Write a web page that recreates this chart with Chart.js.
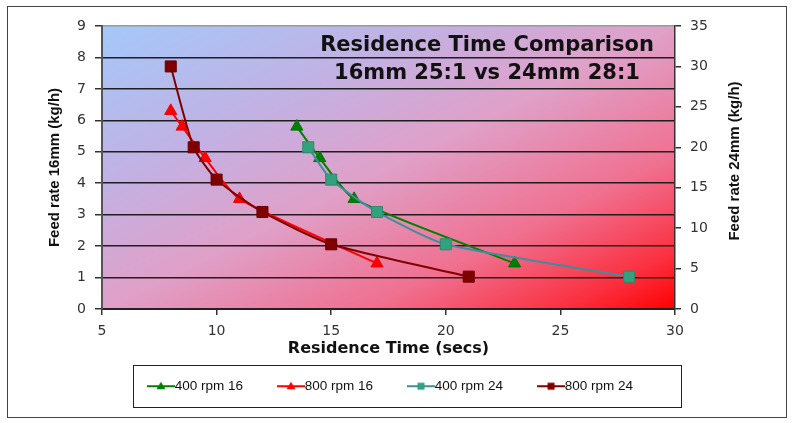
<!DOCTYPE html>
<html><head><meta charset="utf-8">
<script src="https://cdn.jsdelivr.net/npm/chart.js@4.4.1/dist/chart.umd.min.js"></script>
<style>
html,body{margin:0;padding:0;background:#fff;}
#wrap{position:relative;width:792px;height:423px;}
</style></head><body>
<div id="wrap"><canvas id="c" width="792" height="423"></canvas></div>
<script>
// ---- data ----
const seriesNames = ['400 rpm 16', '800 rpm 16', '400 rpm 24', '800 rpm 24'];
const time400_16 = [13.5, 14.5, 16, 23];
const feed400_16 = [5.8, 4.8, 3.5, 1.45];
const time800_16 = [8, 8.5, 9.5, 11, 17];
const feed800_16 = [6.3, 5.8, 4.8, 3.5, 1.45];
const time400_24 = [14, 15, 17, 20, 28];
const feed400_24 = [20, 16, 12, 8, 4];
const time800_24 = [8, 9, 10, 12, 15, 21];
const feed800_24 = [30, 20, 16, 12, 8, 4];
const xTickValues = [5, 10, 15, 20, 25, 30];
const yLeftTickValues = [0, 1, 2, 3, 4, 5, 6, 7, 8, 9];
const yRightTickValues = [0, 5, 10, 15, 20, 25, 30, 35];
const chartTitleLines = ['Residence Time Comparison', '16mm 25:1 vs 24mm 28:1'];
const xTitle = 'Residence Time (secs)';
const yLeftTitle = 'Feed rate 16mm (kg/h)';
const yRightTitle = 'Feed rate 24mm (kg/h)';

const toPts = (xs, ys) => xs.map((x, i) => ({x: x, y: ys[i]}));

const styles = [
  {line: '#008000', fill: '#008000', stroke: '#007000', shape: 'triangle', axis: 'y'},
  {line: '#ff0000', fill: '#ff0000', stroke: '#ee0000', shape: 'triangle', axis: 'y'},
  {line: '#3f8d9e', fill: '#33a07e', stroke: '#2b8a70', shape: 'rect', axis: 'y1'},
  {line: '#800000', fill: '#800000', stroke: '#6a0000', shape: 'rect', axis: 'y1'}
];
const seriesData = [
  toPts(time400_16, feed400_16),
  toPts(time800_16, feed800_16),
  toPts(time400_24, feed400_24),
  toPts(time800_24, feed800_24)
];

const legendFontSize = 13.5;
function legendSymbol(st) {
  const W = 21, gap = Math.ceil(legendFontSize / 2);
  const c = document.createElement('canvas');
  c.width = W + 2 * gap; c.height = 12;
  const g = c.getContext('2d');
  g.strokeStyle = st.line; g.lineWidth = 2;
  g.beginPath(); g.moveTo(gap, 6); g.lineTo(W + 2 * gap, 6); g.stroke();
  const cx = (gap + W + 2 * gap) / 2;
  g.fillStyle = st.fill;
  g.beginPath();
  if (st.shape === 'triangle') {
    g.moveTo(cx, 1.5); g.lineTo(cx + 4.5, 9); g.lineTo(cx - 4.5, 9); g.closePath();
  } else {
    g.rect(cx - 3.5, 2.5, 7, 7);
  }
  g.fill();
  return c;
}
const legendImgs = styles.map(legendSymbol);

const datasets = seriesNames.map((name, i) => ({
  label: name,
  data: seriesData[i],
  yAxisID: styles[i].axis,
  showLine: true,
  borderColor: styles[i].line,
  borderWidth: 2,
  backgroundColor: styles[i].fill,
  pointStyle: styles[i].shape,
  pointRadius: styles[i].shape === 'triangle' ? 7 : 7.8,
  pointBackgroundColor: styles[i].fill,
  pointBorderColor: styles[i].stroke,
  pointBorderWidth: 1,
  tension: 0.2,
  order: 4 - i
}));

const plotDecor = {
  id: 'plotDecor',
  beforeDraw(chart) {
    const a = chart.chartArea, ctx = chart.ctx;
    const w = a.right - a.left, h = a.bottom - a.top;
    const cx = (a.left + a.right) / 2, cy = (a.top + a.bottom) / 2;
    const k = w * h / (w * w + h * h);
    const gr = ctx.createLinearGradient(cx - k * h, cy - k * w, cx + k * h, cy + k * w);
    gr.addColorStop(0, '#a4c8fa');
    gr.addColorStop(0.3, '#c4b0e2');
    gr.addColorStop(0.5, '#e0a0c8');
    gr.addColorStop(0.73, '#f07090');
    gr.addColorStop(0.9, '#fb3040');
    gr.addColorStop(1, '#ff0000');
    ctx.save();
    ctx.fillStyle = '#ffffff';
    ctx.fillRect(0, 0, chart.width, chart.height);
    ctx.fillStyle = gr;
    ctx.fillRect(a.left, a.top, w, h);
    ctx.restore();
  },
  afterDraw(chart) {
    const ctx = chart.ctx;
    ctx.save();
    // title inside plot
    ctx.fillStyle = '#111';
    ctx.font = 'bold 21px "DejaVu Sans"';
    ctx.textAlign = 'center';
    ctx.textBaseline = 'middle';
    ctx.fillText(chartTitleLines[0], 487, 46);
    ctx.fillText(chartTitleLines[1], 487, 74);
    // right axis title
    ctx.font = 'bold 15px "Liberation Sans"';
    ctx.translate(734.5, 161);
    ctx.rotate(-Math.PI / 2);
    ctx.fillText(yRightTitle, 0, 0);
    ctx.restore();
    // legend box
    const lg = chart.legend;
    if (lg && lg.legendHitBoxes && lg.legendHitBoxes.length) {
      const hb = lg.legendHitBoxes;
      const first = hb[0], last = hb[hb.length - 1];
      const l = first.left - 14, r = last.left + last.width + 48;
      const mid = first.top + first.height / 2;
      const t = mid - 21, b = mid + 21;
      ctx.save();
      ctx.strokeStyle = '#222';
      ctx.lineWidth = 1;
      ctx.strokeRect(Math.round(l) + 0.5, Math.round(t) + 0.5, Math.round(r - l), Math.round(b - t));
      ctx.restore();
    }
    // outer border
    ctx.save();
    ctx.strokeStyle = '#444';
    ctx.lineWidth = 1;
    ctx.strokeRect(7.5, 6.5, 779, 411);
    ctx.restore();
  }
};

const tickFont = {family: '"DejaVu Sans"', size: 14};

new Chart(document.getElementById('c'), {
  type: 'scatter',
  data: {datasets: datasets},
  plugins: [plotDecor],
  options: {
    responsive: false,
    animation: false,
    events: [],
    layout: {padding: {left: 0, right: 12, top: 26, bottom: 20}},
    plugins: {
      title: {display: false},
      tooltip: {enabled: false},
      legend: {
        display: true,
        position: 'bottom',
        labels: {
          font: {family: '"Liberation Sans"', size: legendFontSize},
          color: '#111',
          usePointStyle: true,
          pointStyleWidth: 21,
          padding: 34,
          generateLabels: chart => chart.data.datasets.map((ds, i) => ({
            text: ds.label,
            pointStyle: legendImgs[i],
            fillStyle: ds.borderColor,
            strokeStyle: ds.borderColor,
            lineWidth: 0,
            hidden: false,
            datasetIndex: i,
            fontColor: '#111'
          }))
        }
      }
    },
    scales: {
      x: {
        type: 'linear',
        position: 'bottom',
        min: 5, max: 30,
        afterBuildTicks: s => { s.ticks = xTickValues.map(v => ({value: v})); },
        afterFit: s => { s.height = 36.5; },
        ticks: {font: tickFont, color: '#333', padding: 8, maxRotation: 0},
        grid: {drawOnChartArea: false, drawTicks: true, tickLength: 6, color: '#333', lineWidth: 1.5},
        border: {display: true, color: '#222', width: 2},
        title: {display: true, text: xTitle, color: '#111',
          font: {family: '"DejaVu Sans"', size: 16, weight: 'bold'},
          padding: {top: 0, bottom: -13.1}}
      },
      y: {
        type: 'linear',
        position: 'left',
        min: 0, max: 9,
        afterBuildTicks: s => { s.ticks = yLeftTickValues.map(v => ({value: v})); },
        afterFit: s => { s.width = 102; },
        ticks: {font: tickFont, color: '#333', padding: 9},
        grid: {
          drawOnChartArea: true, drawTicks: true, tickLength: 7,
          color: c => (c.tick && c.tick.value === 9) ? '#9a9a9a' : '#1e1e1e',
          tickColor: '#333',
          lineWidth: 1.5
        },
        border: {display: true, color: '#555', width: 2},
        title: {display: true, text: yLeftTitle, color: '#111',
          font: {family: '"Liberation Sans"', size: 15, weight: 'bold'},
          padding: {top: 46, bottom: 0}}
      },
      y1: {
        type: 'linear',
        position: 'right',
        min: 0, max: 35,
        afterBuildTicks: s => { s.ticks = yRightTickValues.map(v => ({value: v})); },
        afterFit: s => { s.width = 105; },
        ticks: {font: tickFont, color: '#333', padding: 9},
        grid: {drawOnChartArea: false, drawTicks: true, tickLength: 6, color: '#333', lineWidth: 1.5},
        border: {display: true, color: '#333', width: 1.5},
        title: {display: false}
      }
    }
  }
});
</script>
</body></html>
